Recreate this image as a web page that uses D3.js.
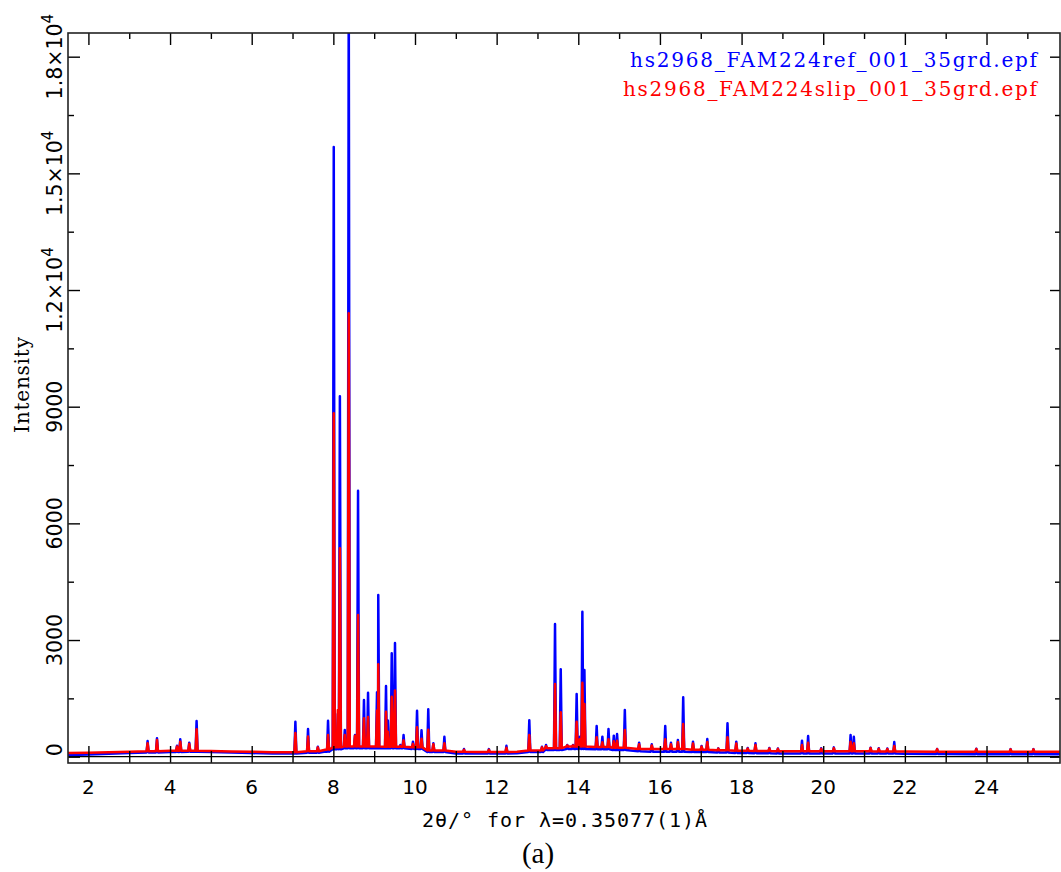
<!DOCTYPE html>
<html>
<head>
<meta charset="utf-8">
<script src="https://cdn.jsdelivr.net/npm/d3@7"></script>
<style>
  body { margin: 0; background: #fff; }
  svg { display: block; }
</style>
</head>
<body>
<svg></svg>
<script>
// peak positions (2theta) and peak tops
const peakPos = [3.45, 3.68, 4.17, 4.25, 4.47, 4.65, 7.07, 7.38, 7.62, 7.87,
  8.01, 8.11, 8.16, 8.28, 8.377, 8.53, 8.605, 8.75, 8.85, 9.07,
  9.10, 9.29, 9.335, 9.43, 9.51, 9.64, 9.72, 9.95, 10.05, 10.16,
  10.325, 10.45, 10.72, 11.20, 11.81, 12.24, 12.80, 13.11, 13.21, 13.43,
  13.57, 13.73, 13.87, 13.96, 14.04, 14.10, 14.15, 14.45, 14.59, 14.74,
  14.87, 14.95, 15.14, 15.49, 15.80, 16.13, 16.27, 16.44, 16.57, 16.81,
  17.02, 17.16, 17.43, 17.655, 17.87, 18.15, 18.34, 18.68, 18.89, 19.48,
  19.63, 19.95, 20.26, 20.67, 20.75, 21.16, 21.36, 21.57, 21.74, 22.79,
  23.75, 24.59, 25.15];
const refPeak = [403, 473, 283, 447, 360, 918, 900, 712, 257, 925,
  15680, 1100, 9270, 686, 20000, 557, 6840, 1457, 1645, 1660,
  4157, 1820, 930, 2658, 2925, 300, 557, 386, 1180, 680,
  1218, 344, 514, 198, 195, 280, 935, 257, 300, 3411,
  2246, 300, 300, 1612, 514, 3728, 2228, 789, 514, 712,
  540, 583, 1200, 360, 318, 789, 360, 430, 1527, 386,
  275, 455, 215, 858, 386, 224, 344, 224, 210, 411,
  532, 215, 240, 557, 514, 232, 215, 210, 378, 200,
  205, 195, 195];
const slipPeak = [344, 430, 260, 386, 330, 704, 609, 520, 240, 560,
  8830, 1200, 5360, 557, 11400, 540, 3643, 987, 1020, 1190,
  2380, 1157, 643, 1542, 1700, 280, 420, 330, 755, 460,
  695, 320, 344, 180, 180, 230, 557, 240, 270, 1868,
  1140, 290, 290, 900, 450, 1902, 1354, 498, 370, 447,
  400, 410, 686, 320, 290, 447, 320, 380, 840, 340,
  260, 380, 210, 500, 340, 210, 300, 210, 200, 300,
  360, 200, 220, 386, 344, 220, 205, 200, 275, 195,
  200, 190, 190];

// background level between peaks
const bgPos = [1.5, 2.0, 2.5, 3.0, 3.5, 4.0, 4.5, 5.0, 5.5, 6.0,
  6.5, 7.0, 7.5, 7.8, 8.0, 8.5, 9.0, 9.5, 10.0, 10.5,
  11.0, 11.5, 12.0, 12.5, 13.0, 13.4, 14.0, 14.5, 15.0, 15.5,
  16.0, 16.5, 17.0, 17.5, 18.0, 18.5, 19.0, 19.5, 20.0, 20.5,
  21.0, 21.5, 22.0, 23.0, 24.0, 25.0, 25.8];
const refBg = [45, 55, 75, 95, 110, 120, 125, 120, 110, 95,
  80, 80, 100, 130, 190, 215, 215, 215, 200, 120,
  85, 80, 80, 90, 120, 170, 200, 190, 170, 140,
  130, 130, 120, 110, 95, 90, 85, 85, 85, 85,
  80, 80, 75, 70, 65, 60, 60];
const slipBg = [95, 100, 115, 130, 140, 150, 150, 145, 135, 130,
  115, 115, 140, 180, 240, 260, 260, 255, 240, 160,
  125, 120, 120, 130, 160, 220, 260, 250, 230, 200,
  195, 195, 180, 165, 150, 145, 140, 140, 140, 140,
  140, 135, 135, 130, 130, 128, 125];

const xMajor = [2, 4, 6, 8, 10, 12, 14, 16, 18, 20, 22, 24];
const xMinor = [3, 5, 7, 9, 11, 13, 15, 17, 19, 21, 23, 25];
const yMajor = [0, 3000, 6000, 9000, 12000, 15000, 18000];
const yMinor = [1500, 4500, 7500, 10500, 13500, 16500];
const yLabels = ['0', '3000', '6000', '9000', '1.2×10', '1.5×10', '1.8×10'];
const yExp = ['', '', '', '', '4', '4', '4'];

const seriesNames = ['hs2968_FAM224ref_001_35grd.epf', 'hs2968_FAM224slip_001_35grd.epf'];
const seriesColors = ['#0000ff', '#ff0000'];

const width = 1061;
const height = 872;
const plotLeft = 68, plotRight = 1060, plotTop = 33, plotBottom = 763;
const halfW = 0.025;

const svg = d3.select('svg').attr('width', width).attr('height', height);

const xScale = d3.scaleLinear().domain([1.5, 25.8]).range([plotLeft, plotRight]);
const yScale = d3.scaleLinear().domain([-162, 18609]).range([plotBottom, plotTop]);

const buildTrace = (bg, peaks) => {
  const pts = bgPos
    .map((p, i) => [p, bg[i]])
    .filter(d => !peakPos.some(p => Math.abs(p - d[0]) < halfW * 1.5));
  peakPos.forEach((p, i) => {
    const base = bg[d3.leastIndex(bgPos, q => Math.abs(q - p))];
    pts.push([p - halfW, base], [p, peaks[i]], [p + halfW, base]);
  });
  return pts.sort((a, b) => a[0] - b[0]);
};

svg.append('clipPath').attr('id', 'plot-clip')
  .append('rect')
  .attr('x', plotLeft).attr('y', plotTop)
  .attr('width', plotRight - plotLeft).attr('height', plotBottom - plotTop);

const line = d3.line()
  .x(d => xScale(d[0]))
  .y(d => yScale(d[1]));

const plot = svg.append('g').attr('clip-path', 'url(#plot-clip)');

// zero line
plot.append('line')
  .attr('x1', plotLeft).attr('x2', plotRight)
  .attr('y1', yScale(0)).attr('y2', yScale(0))
  .attr('stroke', '#000').attr('stroke-width', 1.2);

[[refBg, refPeak], [slipBg, slipPeak]].forEach(([bg, pk], i) => {
  plot.append('path')
    .datum(buildTrace(bg, pk))
    .attr('fill', 'none')
    .attr('stroke', seriesColors[i])
    .attr('stroke-width', 2.5)
    .attr('stroke-linejoin', 'round')
    .attr('d', line);
});

// ticks
const tickAxis = (axis, values, size, transform) => {
  const g = svg.append('g')
    .attr('transform', transform)
    .call(axis.tickValues(values).tickSize(size).tickFormat(''));
  g.select('.domain').remove();
  g.selectAll('line').attr('stroke', '#000').attr('stroke-width', 1.4);
};

tickAxis(d3.axisBottom(xScale), xMajor, -17, `translate(0,${plotBottom})`);
tickAxis(d3.axisBottom(xScale), xMinor, -12, `translate(0,${plotBottom})`);
tickAxis(d3.axisTop(xScale), xMajor, -12, `translate(0,${plotTop})`);
tickAxis(d3.axisTop(xScale), xMinor, -6, `translate(0,${plotTop})`);
tickAxis(d3.axisLeft(yScale), yMajor, -12, `translate(${plotLeft},0)`);
tickAxis(d3.axisLeft(yScale), yMinor, -6, `translate(${plotLeft},0)`);
tickAxis(d3.axisRight(yScale), yMajor, -10, `translate(${plotRight},0)`);
tickAxis(d3.axisRight(yScale), yMinor, -5, `translate(${plotRight},0)`);

// frame
svg.append('rect')
  .attr('x', plotLeft).attr('y', plotTop)
  .attr('width', plotRight - plotLeft).attr('height', plotBottom - plotTop)
  .attr('fill', 'none')
  .attr('stroke', '#222')
  .attr('stroke-width', 1.6);

// x tick labels
svg.append('g').selectAll('text')
  .data(xMajor)
  .enter()
  .append('text')
  .attr('x', d => xScale(d))
  .attr('y', 794)
  .attr('text-anchor', 'middle')
  .attr('font-family', 'DejaVu Sans')
  .attr('font-size', 20)
  .attr('fill', '#000')
  .text(d => d);

// y tick labels, rotated
const yText = svg.append('g').selectAll('text')
  .data(yMajor)
  .enter()
  .append('text')
  .attr('transform', (d, i) => `translate(62,${yScale(d) - (i === 0 ? 7 : 0)}) rotate(-90)`)
  .attr('text-anchor', 'middle')
  .attr('font-family', 'DejaVu Sans')
  .attr('font-size', 20.5)
  .attr('fill', '#000');

yText.append('tspan').text((d, i) => yLabels[i]);
yText.append('tspan')
  .attr('dy', (d, i) => yExp[i] ? -9 : 0)
  .attr('font-size', 15)
  .text((d, i) => yExp[i]);

// axis titles
svg.append('text')
  .attr('x', 422)
  .attr('y', 827)
  .attr('font-family', 'DejaVu Sans Mono')
  .attr('font-size', 20)
  .attr('textLength', 285)
  .attr('fill', '#000')
  .text('2θ/° for λ=0.35077(1)Å');

svg.append('text')
  .attr('transform', 'translate(29,385) rotate(-90)')
  .attr('text-anchor', 'middle')
  .attr('font-family', 'DejaVu Serif')
  .attr('font-size', 20)
  .attr('textLength', 96)
  .attr('fill', '#000')
  .text('Intensity');

svg.append('text')
  .attr('x', 538)
  .attr('y', 863)
  .attr('text-anchor', 'middle')
  .attr('font-family', 'Liberation Serif')
  .attr('font-size', 29)
  .attr('fill', '#000')
  .text('(a)');

// legend
const legendLengths = [407, 414];
svg.append('g').selectAll('text')
  .data(seriesNames)
  .enter()
  .append('text')
  .attr('x', 1037)
  .attr('y', (d, i) => 67 + i * 29)
  .attr('text-anchor', 'end')
  .attr('font-family', 'DejaVu Serif')
  .attr('font-size', 20)
  .attr('textLength', (d, i) => legendLengths[i])
  .attr('fill', (d, i) => seriesColors[i])
  .text(d => d);
</script>
</body>
</html>
